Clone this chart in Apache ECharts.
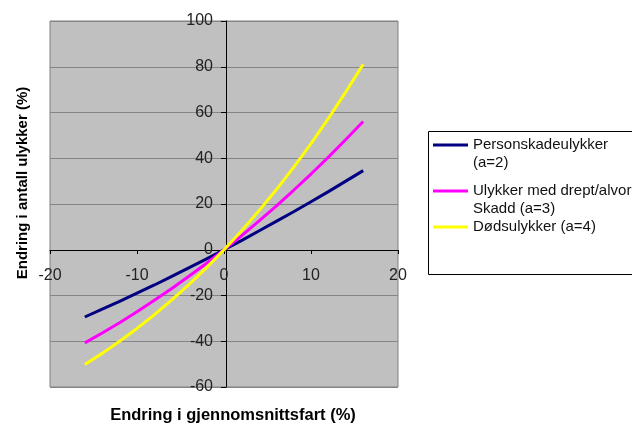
<!DOCTYPE html>
<html>
<head>
<meta charset="utf-8">
<script src="https://cdn.jsdelivr.net/npm/echarts@6/dist/echarts.min.js"></script>
<style>html,body{margin:0;padding:0;background:#fff}#c{width:632px;height:424px}</style>
</head>
<body>
<div id="c"></div>
<script>
// Change in mean speed (%)
const speedChange = [-16, -14, -12, -10, -8, -6, -4, -2, 0, 2, 4, 6, 8, 10, 12, 14, 16];
// Change in number of accidents (%)
const personskade = [-29.4, -26.0, -22.6, -19.0, -15.4, -11.6, -7.8, -4.0, 0, 4.0, 8.2, 12.4, 16.6, 21.0, 25.4, 30.0, 34.6];
const dreptAlvorlig = [-40.7, -36.4, -31.9, -27.1, -22.1, -16.9, -11.5, -5.9, 0, 6.1, 12.5, 19.1, 26.0, 33.1, 40.5, 48.2, 56.1];
const dodsulykker = [-50.2, -45.3, -40.0, -34.4, -28.4, -21.9, -15.1, -7.8, 0, 8.2, 17.0, 26.2, 36.0, 46.4, 57.4, 69.0, 81.1];
const seriesNames = ['Personskadeulykker\n(a=2)', 'Ulykker med drept/alvorlig\nSkadd (a=3)', 'Dødsulykker (a=4)'];
const seriesColors = ['#000080', '#ff00ff', '#ffff00'];
const xTitle = 'Endring i gjennomsnittsfart (%)';
const yTitle = 'Endring i antall ulykker (%)';

const pair = (ys) => speedChange.map((x, i) => [x, ys[i]]);
const allData = [personskade, dreptAlvorlig, dodsulykker];

const font = '"Liberation Sans", Arial, sans-serif';
const icons = [
  'path://M0,0M0,17.5L35,17.5L35,20.5L0,20.5ZM0,56',
  'path://M0,0M0,7.5L35,7.5L35,10.5L0,10.5ZM0,36',
  'path://M0,0L35,0L35,3L0,3Z'
];

const chart = echarts.init(document.getElementById('c'), null, {renderer: 'canvas'});
chart.setOption({
  animation: false,
  backgroundColor: '#ffffff',
  grid: {
    left: 50, right: 234, top: 21, bottom: 37,
    show: true, backgroundColor: '#c0c0c0', borderColor: '#808080', borderWidth: 1
  },
  xAxis: {
    type: 'value', min: -20, max: 20, interval: 10,
    position: 'bottom', offset: -137,
    axisLine: {onZero: false, lineStyle: {color: '#000', width: 1}},
    axisTick: {show: true, length: 4, lineStyle: {color: '#000'}},
    axisLabel: {margin: 18, fontSize: 16, fontFamily: font, color: '#222'},
    splitLine: {show: false}
  },
  yAxis: {
    type: 'value', min: -60, max: 100, interval: 20,
    position: 'left', offset: -176,
    axisLine: {onZero: false, lineStyle: {color: '#000', width: 1}},
    axisTick: {show: true, length: 5, lineStyle: {color: '#000'}},
    axisLabel: {margin: 13, fontSize: 16, fontFamily: font, color: '#222'},
    splitLine: {show: true, lineStyle: {color: '#858585', width: 1}}
  },
  legend: {
    orient: 'vertical', left: 433, top: 126, padding: 0, itemGap: 0,
    itemWidth: 35, itemHeight: 56,
    data: seriesNames.map((n, i) => ({name: n, icon: icons[i]})),
    textStyle: {fontSize: 15, fontFamily: font, color: '#111', lineHeight: 18},
    itemStyle: {borderWidth: 0},
    selectedMode: false
  },
  graphic: [
    {type: 'rect', shape: {x: 428.5, y: 131.5, width: 260, height: 143},
     style: {fill: 'none', stroke: '#000', lineWidth: 1}, silent: true},
    {type: 'text', x: 233, y: 415,
     style: {text: xTitle, font: 'bold 16.5px ' + font, fill: '#000', textAlign: 'center', textVerticalAlign: 'middle'}},
    {type: 'text', x: 23, y: 183, rotation: Math.PI / 2,
     style: {text: yTitle, font: 'bold 15px ' + font, fill: '#000', textAlign: 'center', textVerticalAlign: 'middle'}}
  ],
  series: allData.map((d, i) => ({
    name: seriesNames[i], type: 'line', data: pair(d),
    showSymbol: false, symbol: 'none',
    lineStyle: {color: seriesColors[i], width: 3},
    itemStyle: {color: seriesColors[i]},
    z: 3 + i
  }))
});
</script>
</body>
</html>
